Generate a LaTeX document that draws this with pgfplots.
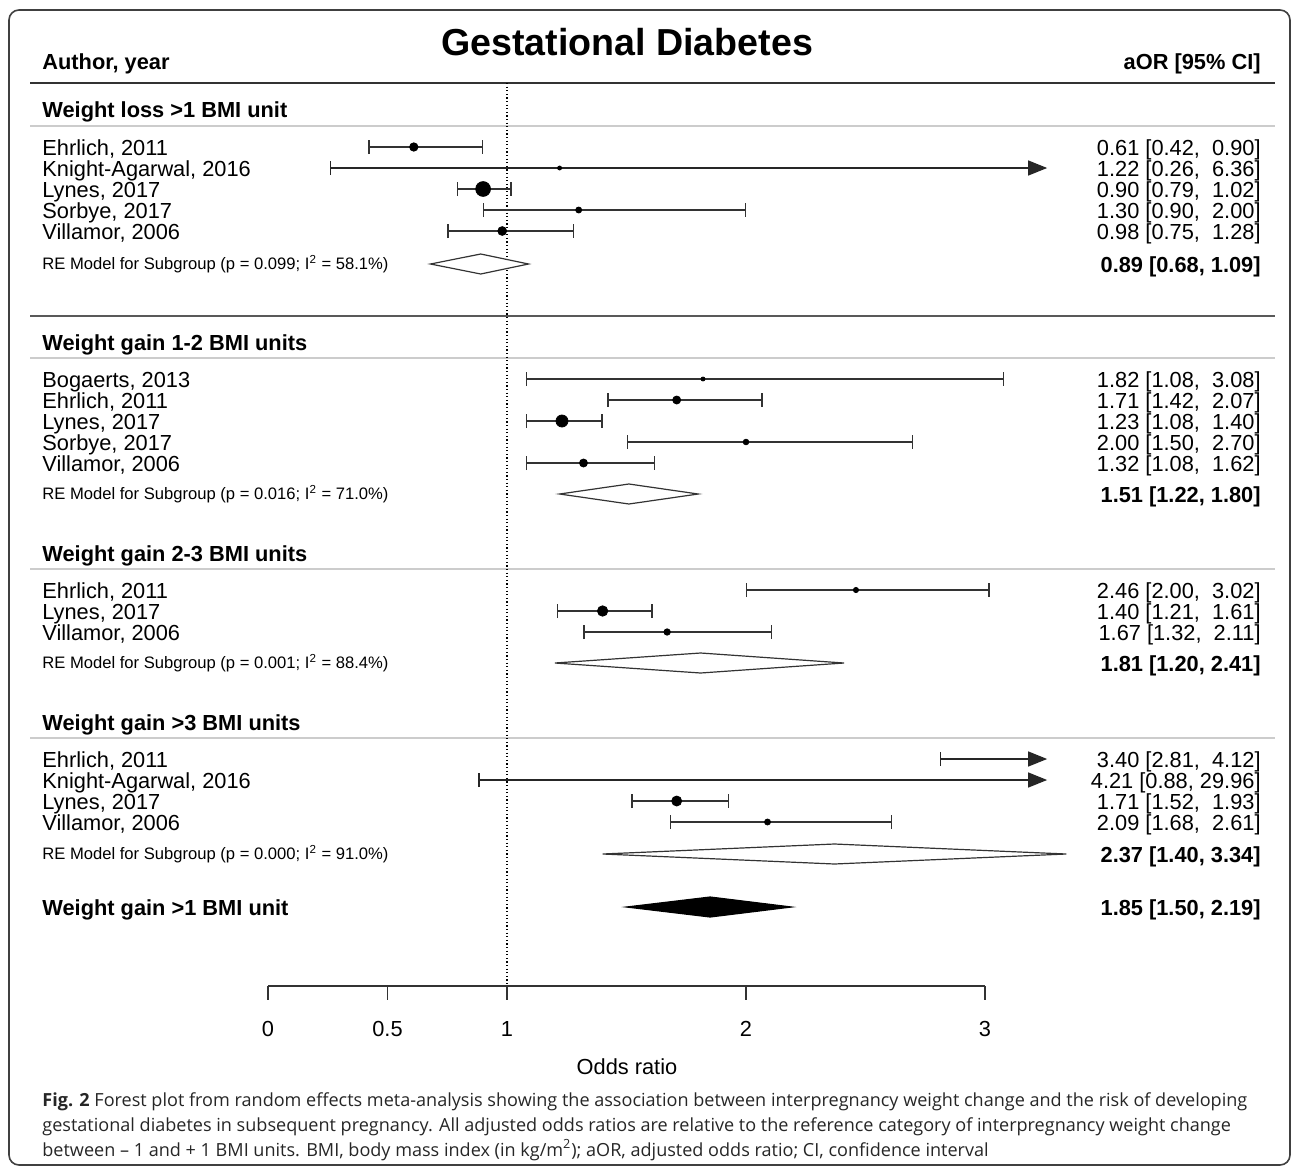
\documentclass[border=0pt]{standalone}
\usepackage{pgfplots}
\pgfplotsset{compat=1.18}
\usepackage{pgfplotstable}
\usepackage{fontspec}
\setmainfont{Liberation Sans}
\newfontfamily\capfont{Open Sans}
\usetikzlibrary{arrows.meta}

% pixel column -> odds ratio (0 at 268px, 239px per unit)
\newcommand\X[1]{\fpeval{(#1-268)/239}}
\newcommand\fmain{\fontsize{10.9}{13}\selectfont}
\newcommand\fsmall{\fontsize{8.3}{10}\selectfont}
\newcommand\fcap{\capfont\fontsize{9.03}{11}\selectfont}
\newcommand\lt[2]{\node[anchor=base west,font=\fmain,inner sep=0pt] at (axis cs:\X{42},#1) {#2};}
\newcommand\lb[2]{\node[anchor=base west,font=\fmain\bfseries,inner sep=0pt] at (axis cs:\X{42},#1) {#2};}
\newcommand\ls[2]{\node[anchor=base west,font=\fsmall,inner sep=0pt] at (axis cs:\X{42},#1) {#2};}
\newcommand\rt[2]{\node[anchor=base east,font=\fmain,inner sep=0pt] at (axis cs:\X{1261},#1) {#2};}
\newcommand\rb[2]{\node[anchor=base east,font=\fmain\bfseries,inner sep=0pt] at (axis cs:\X{1261},#1) {#2};}
\newcommand\cp[2]{\node[anchor=base west,font=\fcap,text=black!85,inner sep=0pt] at (axis cs:\X{42},#1) {#2};}

% y = row position (px from top), s = marker size (pt)
\pgfplotstableread{
y   est  lo   hi    s
147 0.61 0.42 0.90  2.1
168 1.22 0.26 6.36  1.0
189 0.90 0.79 1.02  3.7
210 1.30 0.90 2.00  1.5
231 0.98 0.75 1.28  2.2
379 1.82 1.08 3.08  1.0
400 1.71 1.42 2.07  2.0
421 1.23 1.08 1.40  3.0
442 2.00 1.50 2.70  1.4
463 1.32 1.08 1.62  2.0
590 2.46 2.00 3.02  1.3
611 1.40 1.21 1.61  2.6
632 1.67 1.32 2.11  1.6
759 3.40 2.81 4.12  2.0
780 4.21 0.88 29.96 1.0
801 1.71 1.52 1.93  2.5
822 2.09 1.68 2.61  1.5
}\studies

\begin{document}
\begin{tikzpicture}
\begin{axis}[
  scale only axis, width=646pt, height=584pt,
  xmin=-1.121339, xmax=4.284519, ymin=0, ymax=1168, y dir=reverse,
  hide axis, clip=false]

% rules
\draw[black!80, line width=0.75pt] (axis cs:\X{30},83) -- (axis cs:\X{1275},83);
\draw[black!65, line width=0.75pt] (axis cs:\X{30},316) -- (axis cs:\X{1275},316);
\draw[black!20, line width=0.75pt] (axis cs:\X{30},126) -- (axis cs:\X{1275},126);
\draw[black!20, line width=0.75pt] (axis cs:\X{30},358) -- (axis cs:\X{1275},358);
\draw[black!20, line width=0.75pt] (axis cs:\X{30},569) -- (axis cs:\X{1275},569);
\draw[black!20, line width=0.75pt] (axis cs:\X{30},738) -- (axis cs:\X{1275},738);

% reference line
\addplot[black, line width=0.6pt, dash pattern=on 0.6pt off 1.2pt] coordinates {(1,83) (1,986)};

% confidence intervals
\addplot[black!80, line width=0.65pt, {Bar[width=7pt]}-{Bar[width=7pt]},
  quiver={u=\thisrow{hi}-\thisrow{lo}, v=0},
  restrict expr to domain={\thisrow{hi}}{0:3.25}] table[x=lo, y=y] {\studies};
\addplot[black!85, line width=0.65pt, {Bar[width=7pt]}-{Triangle[length=9.5pt,width=7.5pt]},
  quiver={u=3.26-\thisrow{lo}, v=0},
  restrict expr to domain={\thisrow{hi}}{3.25:1000}] table[x=lo, y=y] {\studies};

% point estimates
\addplot[scatter, only marks, mark=*,
  scatter/use mapped color={draw=black, fill=black},
  visualization depends on={\thisrow{s} \as \ms},
  scatter/@pre marker code/.append style={/tikz/mark size=\ms},
  restrict x to domain=0:3.25] table[x=est, y=y] {\studies};

% pooled estimates
\addplot[draw=black!80, fill=white, line width=0.6pt] coordinates {(0.68,264) (0.89,254) (1.09,264) (0.89,274)} -- cycle;
\addplot[draw=black!80, fill=white, line width=0.6pt] coordinates {(1.22,494) (1.51,484) (1.80,494) (1.51,504)} -- cycle;
\addplot[draw=black!80, fill=white, line width=0.6pt] coordinates {(1.20,663) (1.81,653) (2.41,663) (1.81,673)} -- cycle;
\addplot[draw=black!80, fill=white, line width=0.6pt] coordinates {(1.40,854) (2.37,844) (3.34,854) (2.37,864)} -- cycle;
\addplot[draw=black, fill=black, line width=0.6pt] coordinates {(1.50,907) (1.85,897) (2.19,907) (1.85,917)} -- cycle;

% x axis
\draw[black!80, line width=0.65pt] (axis cs:0,986) -- (axis cs:3,986);
\pgfplotsinvokeforeach{0,0.5,1,2,3}{
  \draw[black!80, line width=0.65pt] (axis cs:#1,986) -- (axis cs:#1,1000);
  \node[anchor=base, font=\fmain, inner sep=0pt] at (axis cs:#1,1036) {#1};
}
\node[anchor=base, font=\fmain, inner sep=0pt] at (axis cs:\X{627},1074) {Odds ratio};

% headings
\node[anchor=base, font=\fontsize{18.8}{22}\selectfont\bfseries, inner sep=0pt] at (axis cs:\X{627},55) {Gestational Diabetes};
\lb{69}{Author, year}
\rb{69}{aOR [95\% CI]}

% weight loss >1
\lb{117}{Weight loss >1 BMI unit}
\lt{155}{Ehrlich, 2011}        \rt{155}{0.61 [0.42,\ \ 0.90]}
\lt{176}{Knight-Agarwal, 2016} \rt{176}{1.22 [0.26,\ \ 6.36]}
\lt{197}{Lynes, 2017}          \rt{197}{0.90 [0.79,\ \ 1.02]}
\lt{218}{Sorbye, 2017}         \rt{218}{1.30 [0.90,\ \ 2.00]}
\lt{239}{Villamor, 2006}       \rt{239}{0.98 [0.75,\ \ 1.28]}
\ls{269.5}{RE Model for Subgroup (p = 0.099; I\textsuperscript{2} = 58.1\%)}
\rb{272}{0.89 [0.68, 1.09]}

% weight gain 1-2
\lb{350}{Weight gain 1-2 BMI units}
\lt{387}{Bogaerts, 2013}       \rt{387}{1.82 [1.08,\ \ 3.08]}
\lt{408}{Ehrlich, 2011}        \rt{408}{1.71 [1.42,\ \ 2.07]}
\lt{429}{Lynes, 2017}          \rt{429}{1.23 [1.08,\ \ 1.40]}
\lt{450}{Sorbye, 2017}         \rt{450}{2.00 [1.50,\ \ 2.70]}
\lt{471}{Villamor, 2006}       \rt{471}{1.32 [1.08,\ \ 1.62]}
\ls{499.5}{RE Model for Subgroup (p = 0.016; I\textsuperscript{2} = 71.0\%)}
\rb{502}{1.51 [1.22, 1.80]}

% weight gain 2-3
\lb{561}{Weight gain 2-3 BMI units}
\lt{598}{Ehrlich, 2011}        \rt{598}{2.46 [2.00,\ \ 3.02]}
\lt{619}{Lynes, 2017}          \rt{619}{1.40 [1.21,\ \ 1.61]}
\lt{640}{Villamor, 2006}       \rt{640}{1.67 [1.32,\ \ 2.11]}
\ls{668.5}{RE Model for Subgroup (p = 0.001; I\textsuperscript{2} = 88.4\%)}
\rb{671}{1.81 [1.20, 2.41]}

% weight gain >3
\lb{730}{Weight gain >3 BMI units}
\lt{767}{Ehrlich, 2011}        \rt{767}{3.40 [2.81,\ \ 4.12]}
\lt{788}{Knight-Agarwal, 2016} \rt{788}{4.21 [0.88, 29.96]}
\lt{809}{Lynes, 2017}          \rt{809}{1.71 [1.52,\ \ 1.93]}
\lt{830}{Villamor, 2006}       \rt{830}{2.09 [1.68,\ \ 2.61]}
\ls{859.5}{RE Model for Subgroup (p = 0.000; I\textsuperscript{2} = 91.0\%)}
\rb{862}{2.37 [1.40, 3.34]}

% overall
\lb{915}{Weight gain >1 BMI unit}
\rb{915}{1.85 [1.50, 2.19]}

% caption
\cp{1106}{\textbf{Fig. 2} Forest plot from random effects meta-analysis showing the association between interpregnancy weight change and the risk of developing}
\cp{1131}{gestational diabetes in subsequent pregnancy. All adjusted odds ratios are relative to the reference category of interpregnancy weight change}
\cp{1156}{between – 1 and + 1 BMI units. BMI, body mass index (in kg/m\textsuperscript{2}); aOR, adjusted odds ratio; CI, confidence interval}

% frame
\draw[black!75, line width=0.8pt, rounded corners=5pt] (axis cs:\X{9},10) rectangle (axis cs:\X{1290},1165);
\end{axis}
\pgfresetboundingbox
\path (0,0) rectangle (646pt,584pt);
\end{tikzpicture}
\end{document}
